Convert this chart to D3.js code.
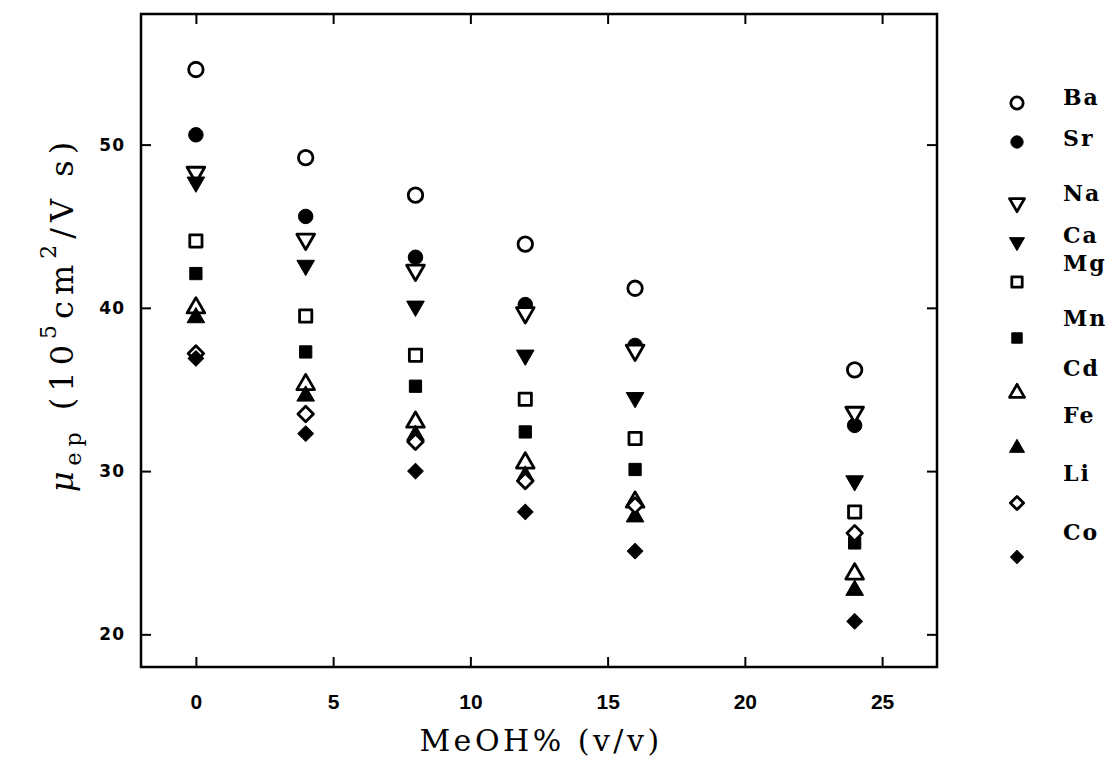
<!DOCTYPE html>
<html>
<head>
<meta charset="utf-8">
<script src="https://cdn.jsdelivr.net/npm/d3@7"></script>
<style>
  html, body { margin: 0; padding: 0; background: #fff; }
  svg { display: block; }
</style>
</head>
<body>
<svg id="chart" width="1117" height="781"></svg>
<script>
// Methanol content of the buffer, % (v/v)
const meoh = [0, 4, 8, 12, 16, 24];

// Effective mobility of each cation, 10^-5 cm^2 / (V s)
const ions = ["Ba", "Sr", "Na", "Ca", "Mg", "Mn", "Cd", "Fe", "Li", "Co"];
const ba = [54.6, 49.2, 46.9, 43.9, 41.2, 36.2];
const sr = [50.6, 45.6, 43.1, 40.2, 37.7, 32.8];
const na = [48.3, 44.2, 42.3, 39.7, 37.4, 33.6];
const ca = [47.7, 42.6, 40.1, 37.1, 34.5, 29.4];
const mg = [44.1, 39.5, 37.1, 34.4, 32.0, 27.5];
const mn = [42.1, 37.3, 35.2, 32.4, 30.1, 25.6];
const cd = [40.0, 35.3, 33.0, 30.5, 28.1, 23.7];
const fe = [39.4, 34.6, 32.2, 29.7, 27.2, 22.7];
const li = [37.2, 33.5, 31.8, 29.4, 27.9, 26.2];
const co = [36.9, 32.3, 30.0, 27.5, 25.1, 20.8];

// Axis ticks
const xTicks = [0, 5, 10, 15, 20, 25];
const yTicks = [20, 30, 40, 50];

const seriesValues = [ba, sr, na, ca, mg, mn, cd, fe, li, co];

// Marker style per ion: shape, filled or open
const markerStyle = {
  Ba: { shape: "circle",   fill: false },
  Sr: { shape: "circle",   fill: true  },
  Na: { shape: "triDown",  fill: false },
  Ca: { shape: "triDown",  fill: true  },
  Mg: { shape: "square",   fill: false },
  Mn: { shape: "square",   fill: true  },
  Cd: { shape: "triUp",    fill: false },
  Fe: { shape: "triUp",    fill: true  },
  Li: { shape: "diamond",  fill: false },
  Co: { shape: "diamond",  fill: true  }
};

const svg = d3.select("#chart");
const frame = { left: 141, right: 937, top: 14, bottom: 667 };

const x = d3.scaleLinear().domain([-2, 27]).range([frame.left, frame.right]);
const y = d3.scaleLinear().domain([18, 58]).range([frame.bottom, frame.top]);

// Marker path builders
function markerPath(shape, scale) {
  const k = scale || 1;
  switch (shape) {
    case "circle":  return d3.symbol(d3.symbolCircle, 165 * k * k)();
    case "square":  return d3.symbol(d3.symbolSquare, 150 * k * k)();
    case "triUp":   return d3.symbol(d3.symbolTriangle, 135 * k * k)();
    case "triDown": return d3.symbol(d3.symbolTriangle, 135 * k * k)();
    case "diamond": return d3.symbol(d3.symbolSquare, 120 * k * k)();
  }
}
function markerRotation(shape) {
  if (shape === "triDown") return 180;
  if (shape === "diamond") return 45;
  return 0;
}
function drawMarker(g, ion, cx, cy, scale) {
  const st = markerStyle[ion];
  g.append("path")
    .attr("d", markerPath(st.shape, scale))
    .attr("transform", `translate(${cx},${cy}) rotate(${markerRotation(st.shape)})`)
    .attr("fill", st.fill ? "#000" : "#fff")
    .attr("stroke", "#000")
    .attr("stroke-width", st.fill ? 1 : 2.8)
    .attr("stroke-linejoin", "round");
}

// Axes: ticks point inward on all four sides
const tickLen = 10;
const fontTickX = "bold 21px 'Liberation Sans', Arial, sans-serif";
const fontTickY = "bold 17px 'DejaVu Sans', sans-serif";

const gx = svg.append("g")
  .attr("transform", `translate(0,${frame.bottom})`)
  .call(d3.axisBottom(x).tickValues(xTicks).tickSizeInner(-tickLen).tickSizeOuter(0).tickPadding(27));
gx.selectAll("text").style("font", fontTickX).attr("fill", "#000");

const gxTop = svg.append("g")
  .attr("transform", `translate(0,${frame.top})`)
  .call(d3.axisTop(x).tickValues(xTicks).tickSizeInner(-tickLen).tickSizeOuter(0).tickFormat(""));

const gy = svg.append("g")
  .attr("transform", `translate(${frame.left},0)`)
  .call(d3.axisLeft(y).tickValues(yTicks).tickSizeInner(-tickLen).tickSizeOuter(0).tickPadding(16));
gy.selectAll("text").style("font", fontTickY).style("letter-spacing", "1px").attr("fill", "#000");

const gyRight = svg.append("g")
  .attr("transform", `translate(${frame.right},0)`)
  .call(d3.axisRight(y).tickValues(yTicks).tickSizeInner(-tickLen).tickSizeOuter(0).tickFormat(""));

[gx, gxTop, gy, gyRight].forEach(g => {
  g.select(".domain").remove();
  g.selectAll(".tick line").attr("stroke", "#000").attr("stroke-width", 2);
});

// Plot frame
svg.append("rect")
  .attr("x", frame.left).attr("y", frame.top)
  .attr("width", frame.right - frame.left).attr("height", frame.bottom - frame.top)
  .attr("fill", "none").attr("stroke", "#000").attr("stroke-width", 2.5);

// Data markers
const pts = svg.append("g");
ions.forEach((ion, i) => {
  seriesValues[i].forEach((v, j) => drawMarker(pts, ion, x(meoh[j]), y(v), 1));
});

// Legend
const legendSymX = 1017, legendTextX = 1063;
const legendSymY  = [103, 142, 203, 242, 282, 338, 393, 448, 503, 557];
const legendTextY = [97, 138, 193, 235, 263, 318, 368, 415, 473, 532];
const leg = svg.append("g");
ions.forEach((ion, i) => {
  drawMarker(leg, ion, legendSymX, legendSymY[i], 0.85);
  leg.append("text")
    .attr("x", legendTextX).attr("y", legendTextY[i])
    .attr("dominant-baseline", "central")
    .style("font", "bold 22px 'DejaVu Serif', serif")
    .style("letter-spacing", "2px")
    .attr("fill", "#000")
    .text(ion);
});

// X axis title
svg.append("text")
  .attr("x", 541).attr("y", 740)
  .attr("text-anchor", "middle").attr("dominant-baseline", "central")
  .style("font", "30px 'DejaVu Serif', serif")
  .style("letter-spacing", "3.5px")
  .attr("fill", "#000")
  .text("MeOH% (v/v)");

// Y axis title, rotated, with subscript and superscripts
const yt = svg.append("text")
  .attr("transform", "translate(73,314) rotate(-90)")
  .attr("text-anchor", "middle")
  .style("font", "32px 'DejaVu Serif', serif")
  .style("letter-spacing", "6px")
  .attr("fill", "#000");
yt.append("tspan").style("font-style", "italic").text("\u03bc");
yt.append("tspan").attr("dy", 8).style("font-size", "22px").text("ep");
yt.append("tspan").attr("dy", -8).text(" (10");
yt.append("tspan").attr("dy", -17).style("font-size", "22px").text("5");
yt.append("tspan").attr("dy", 17).text("cm");
yt.append("tspan").attr("dy", -17).style("font-size", "22px").text("2");
yt.append("tspan").attr("dy", 17).text("/V s)");
</script>
</body>
</html>
